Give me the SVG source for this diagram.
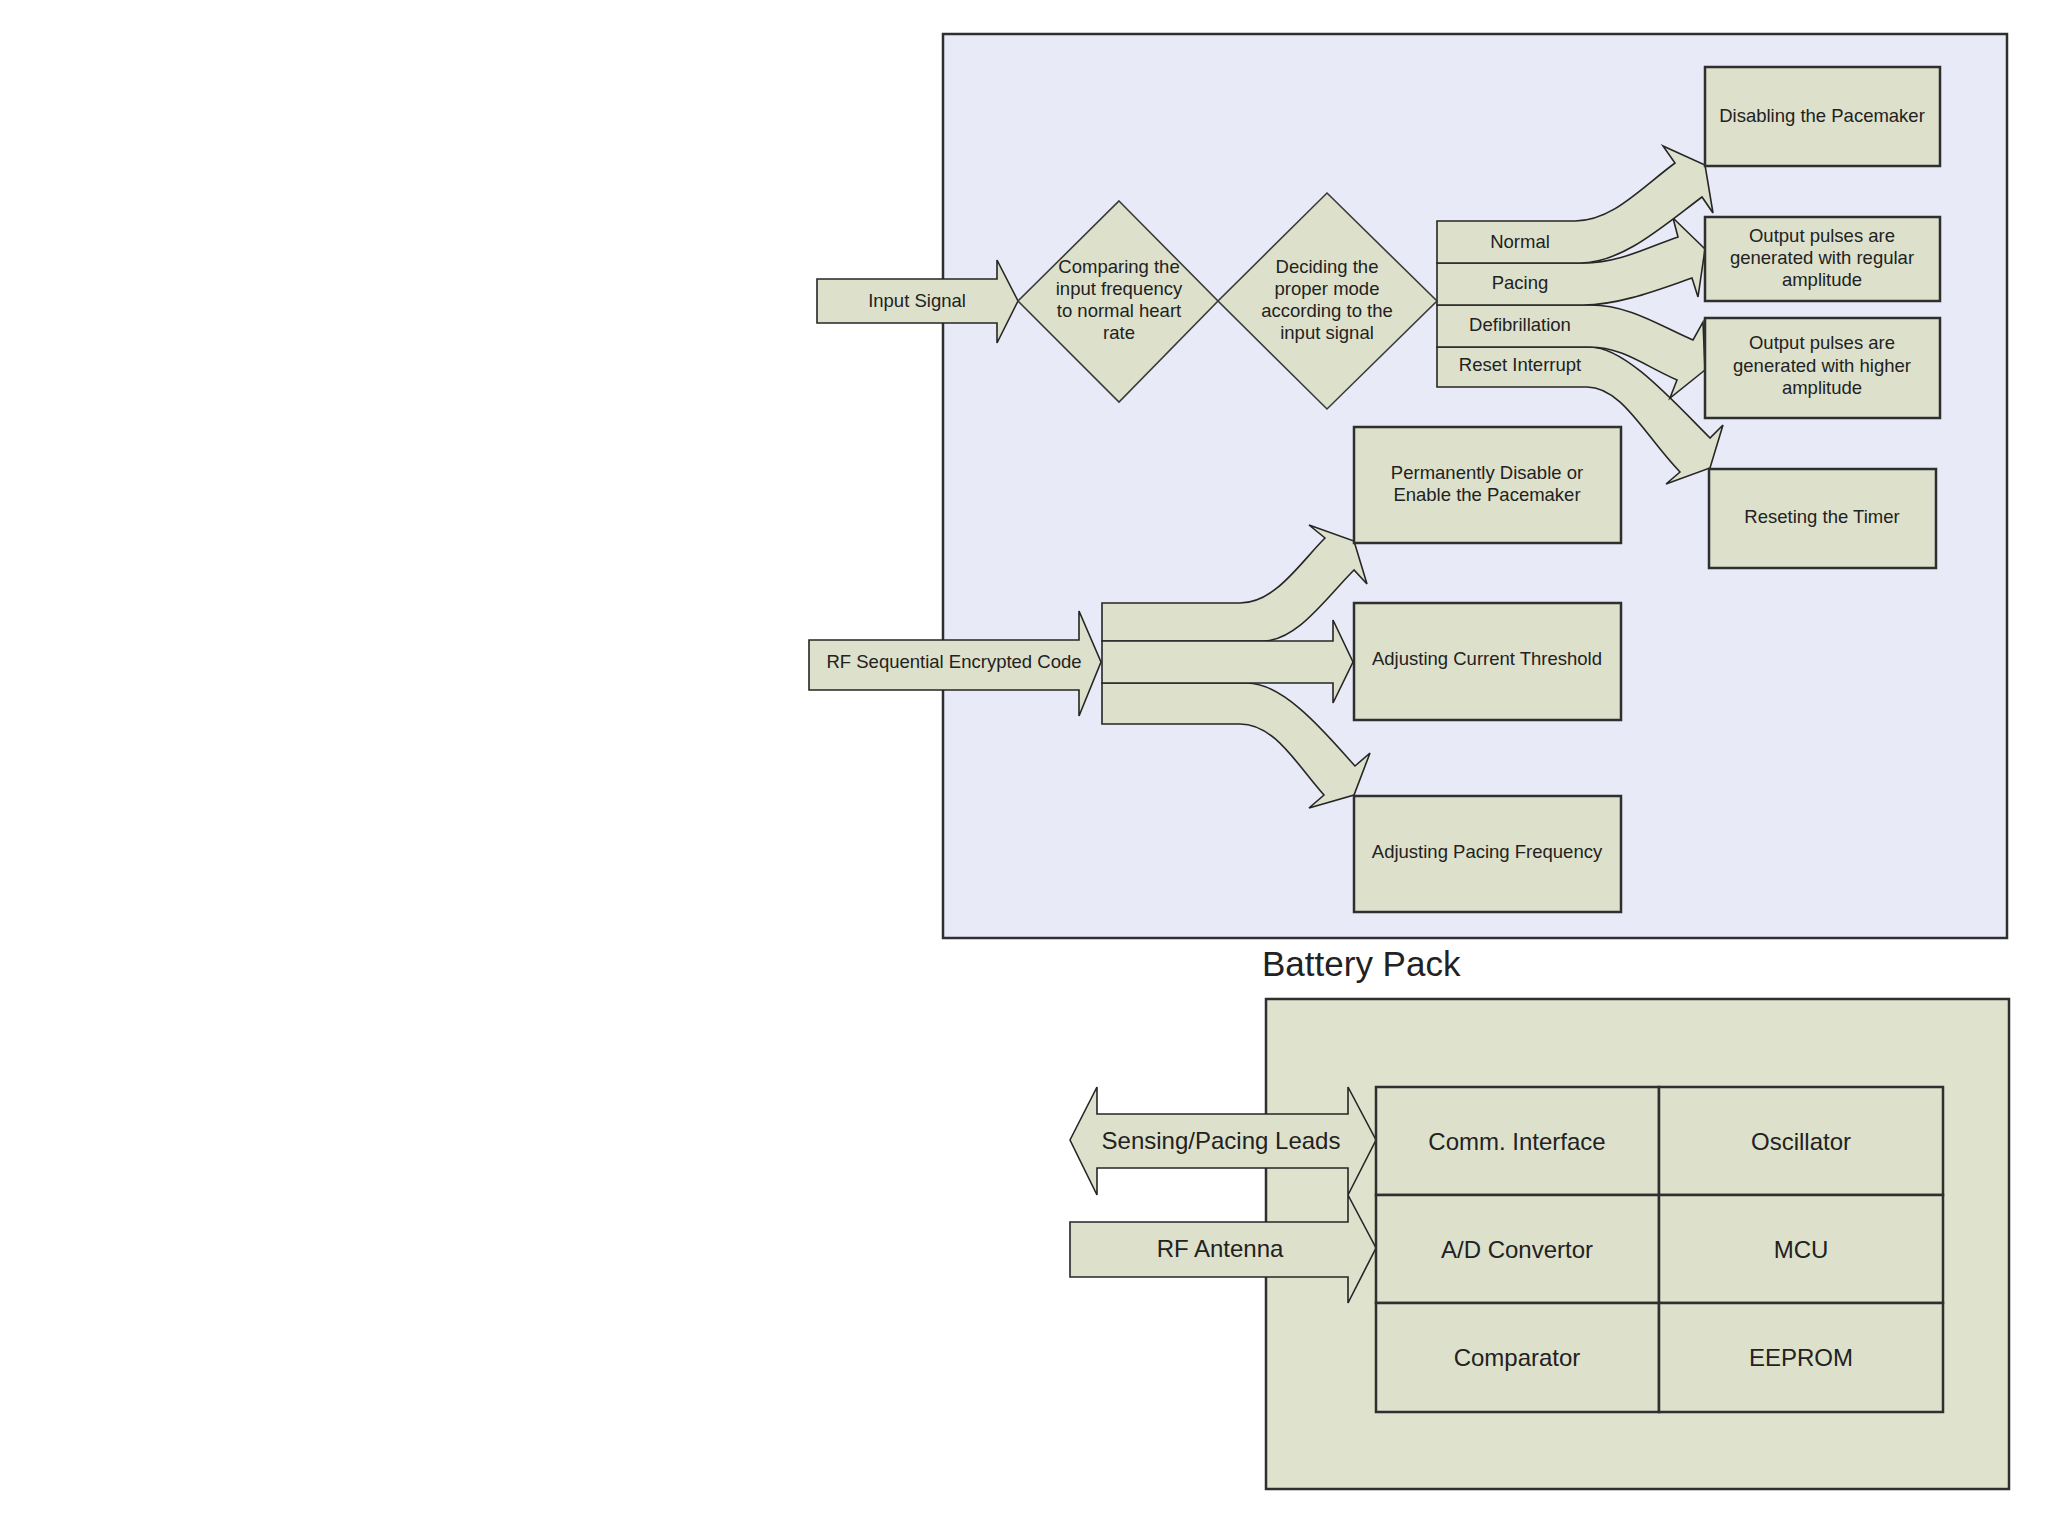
<svg xmlns="http://www.w3.org/2000/svg" width="2048" height="1536" viewBox="0 0 2048 1536">
<style>
  .bg { fill: #ffffff; }
  .panel { fill: #e8ebf7; stroke: #2f2f2f; stroke-width: 2.5; }
  .battery { fill: #dfe2cd; stroke: #2f2f2f; stroke-width: 2.5; }
  .node { fill: #dde1cb; stroke: #2f2f2f; stroke-width: 2.5; }
  .diamond { fill: #dde1cb; stroke: #3a3a3a; stroke-width: 1.6; }
  .arrow { fill: #dde1cb; stroke: #262626; stroke-width: 1.6; stroke-linejoin: miter; }
  text { font-family: "Liberation Sans", Arial, sans-serif; fill: #222222; text-anchor: middle; }
  .t { font-size: 18.5px; }
  .tl { font-size: 24px; }
  .title { font-size: 35px; text-anchor: start; }
</style>
<rect class="bg" x="0" y="0" width="2048" height="1536"/>

<g id="panel-controller">
  <rect class="panel" x="943" y="34" width="1064" height="904"/>
</g>

<g id="battery-pack">
  <text class="title" x="1262" y="976">Battery Pack</text>
  <rect class="battery" x="1266" y="999" width="743" height="490"/>
</g>

<g id="connectors">
  <g id="arrow-input-signal">
    <path class="arrow" d="M817,279 H997 V260 L1018,301 L997,343 V323 H817 Z"/>
    <text class="t" x="917" y="307">Input Signal</text>
  </g>
  <g id="arrow-reset">
    <path class="arrow" d="M1437,347 H1590 C1625,347 1672,400 1710,438 L1723,425 L1710,468 L1666,484 L1680,472 C1645,436 1622,387 1587,387 H1437 Z"/>
  </g>
  <g id="arrow-defib">
    <path class="arrow" d="M1437,305 H1590 C1630,305 1660,326 1693,340 L1703,322 L1705,370 L1670,398 L1677,380 C1645,366 1622,347 1590,347 H1437 Z"/>
  </g>
  <g id="arrow-pacing">
    <path class="arrow" d="M1437,263 H1583 C1620,263 1648,247 1678,237 L1673,218 L1705,249 L1698,297 L1692,278 C1660,289 1620,305 1583,305 H1437 Z"/>
  </g>
  <g id="arrow-normal">
    <path class="arrow" d="M1437,221 H1575 C1612,221 1640,189 1675,163 L1663,146 L1705,165 L1713,213 L1702,197 C1662,227 1622,263 1580,263 H1437 Z"/>
  </g>
  <text class="t" x="1520" y="248">Normal</text>
  <text class="t" x="1520" y="289">Pacing</text>
  <text class="t" x="1520" y="331">Defibrillation</text>
  <text class="t" x="1520" y="371">Reset Interrupt</text>

  <g id="arrow-rf-top">
    <path class="arrow" d="M1102,603 H1240 C1275,603 1300,563 1325,538 L1309,525 L1354,541 L1367,584 L1354,570 C1326,598 1297,641 1263,641 H1102 Z"/>
  </g>
  <g id="arrow-rf-bottom">
    <path class="arrow" d="M1102,683 H1247 C1285,683 1328,736 1355,766 L1370,753 L1354,795 L1309,808 L1324,795 C1297,765 1275,724 1240,724 H1102 Z"/>
  </g>
  <g id="arrow-rf-middle">
    <path class="arrow" d="M1102,641 H1333 V620 L1353,662 L1333,703 V683 H1102 Z"/>
  </g>
  <g id="arrow-rf-code">
    <path class="arrow" d="M809,640 H1079 V611 L1101,662 L1079,716 V690 H809 Z"/>
    <text class="t" x="954" y="668">RF Sequential Encrypted Code</text>
  </g>

  <g id="arrow-leads">
    <path class="arrow" d="M1070,1140 L1097,1087 V1114 H1348 V1087 L1376,1140 L1348,1195 V1168 H1097 V1195 Z"/>
    <text class="tl" x="1221" y="1148.5">Sensing/Pacing Leads</text>
  </g>
  <g id="arrow-rf-antenna">
    <path class="arrow" d="M1070,1222 H1348 V1195 L1376,1248 L1348,1303 V1277 H1070 Z"/>
    <text class="tl" x="1220" y="1256.5">RF Antenna</text>
  </g>
</g>

<g id="node-compare">
  <polygon class="diamond" points="1119,201 1218,301 1119,402 1018,301"/>
  <text class="t" x="1119" y="273">Comparing the</text>
  <text class="t" x="1119" y="295">input frequency</text>
  <text class="t" x="1119" y="317">to normal heart</text>
  <text class="t" x="1119" y="339">rate</text>
</g>

<g id="node-decide">
  <polygon class="diamond" points="1327,193 1437,301 1327,409 1218,301"/>
  <text class="t" x="1327" y="273">Deciding the</text>
  <text class="t" x="1327" y="295">proper mode</text>
  <text class="t" x="1327" y="317">according to the</text>
  <text class="t" x="1327" y="339">input signal</text>
</g>

<g id="node-disabling">
  <rect class="node" x="1705" y="67" width="235" height="99"/>
  <text class="t" x="1822" y="122">Disabling the Pacemaker</text>
</g>

<g id="node-regular">
  <rect class="node" x="1705" y="217" width="235" height="84"/>
  <text class="t" x="1822" y="241.5">Output pulses are</text>
  <text class="t" x="1822" y="263.5">generated with regular</text>
  <text class="t" x="1822" y="285.5">amplitude</text>
</g>

<g id="node-higher">
  <rect class="node" x="1705" y="318" width="235" height="100"/>
  <text class="t" x="1822" y="349">Output pulses are</text>
  <text class="t" x="1822" y="371.5">generated with higher</text>
  <text class="t" x="1822" y="394">amplitude</text>
</g>

<g id="node-reset-timer">
  <rect class="node" x="1709" y="469" width="227" height="99"/>
  <text class="t" x="1822" y="523">Reseting the Timer</text>
</g>

<g id="node-permanent">
  <rect class="node" x="1354" y="427" width="267" height="116"/>
  <text class="t" x="1487" y="479">Permanently Disable or</text>
  <text class="t" x="1487" y="501">Enable the Pacemaker</text>
</g>

<g id="node-current">
  <rect class="node" x="1354" y="603" width="267" height="117"/>
  <text class="t" x="1487" y="665">Adjusting Current Threshold</text>
</g>

<g id="node-frequency">
  <rect class="node" x="1354" y="796" width="267" height="116"/>
  <text class="t" x="1487" y="858">Adjusting Pacing Frequency</text>
</g>

<g id="node-comm">
  <rect class="node" x="1376" y="1087" width="283" height="108"/>
  <text class="tl" x="1517" y="1149.5">Comm. Interface</text>
</g>
<g id="node-oscillator">
  <rect class="node" x="1659" y="1087" width="284" height="108"/>
  <text class="tl" x="1801" y="1149.5">Oscillator</text>
</g>
<g id="node-adc">
  <rect class="node" x="1376" y="1195" width="283" height="108"/>
  <text class="tl" x="1517" y="1257.5">A/D Convertor</text>
</g>
<g id="node-mcu">
  <rect class="node" x="1659" y="1195" width="284" height="108"/>
  <text class="tl" x="1801" y="1257.5">MCU</text>
</g>
<g id="node-comparator">
  <rect class="node" x="1376" y="1303" width="283" height="109"/>
  <text class="tl" x="1517" y="1366">Comparator</text>
</g>
<g id="node-eeprom">
  <rect class="node" x="1659" y="1303" width="284" height="109"/>
  <text class="tl" x="1801" y="1366">EEPROM</text>
</g>
</svg>
